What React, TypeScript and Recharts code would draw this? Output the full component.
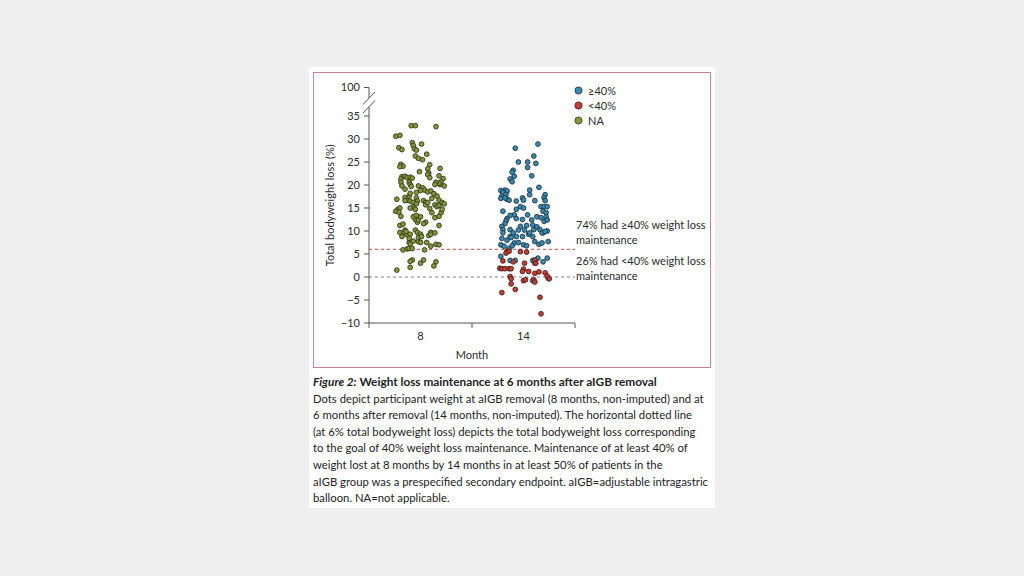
import React from 'react';
import { ScatterChart, Scatter, XAxis, YAxis, ReferenceLine, Label } from 'recharts';

// x: jitter position on a 0..2 axis (month 8 group centred at 0.5, month 14 at 1.5)
// y: total bodyweight loss (%)
const month8NA: [number, number][] = [
  [0.41, 32.9], [0.45, 32.9], [0.65, 32.7], [0.26, 30.6], [0.3, 30.8], [0.29, 28.1], [0.32, 27.7],
  [0.42, 29.2], [0.43, 28.6], [0.44, 27.9], [0.46, 27.6], [0.51, 28.9], [0.45, 26.3], [0.48, 25.8],
  [0.56, 26.7], [0.52, 25.5], [0.31, 24.5], [0.33, 24.1], [0.3, 24.0], [0.59, 24.4], [0.57, 23.5],
  [0.58, 22.6], [0.57, 22.3], [0.69, 23.6], [0.49, 22.9], [0.32, 21.8], [0.35, 21.9], [0.31, 21.3],
  [0.37, 21.6], [0.4, 21.7], [0.42, 21.5], [0.68, 22.0], [0.72, 21.4], [0.7, 20.7], [0.69, 20.1],
  [0.73, 19.8], [0.68, 20.4], [0.59, 21.6], [0.65, 20.6], [0.64, 20.1], [0.39, 20.6], [0.4, 20.1],
  [0.41, 19.7], [0.31, 20.6], [0.32, 19.8], [0.35, 19.1], [0.27, 16.9], [0.35, 17.3], [0.39, 17.6],
  [0.4, 18.2], [0.37, 16.7], [0.4, 16.5], [0.46, 17.2], [0.47, 16.5], [0.43, 16.2], [0.46, 15.9],
  [0.48, 19.8], [0.52, 19.4], [0.54, 18.9], [0.57, 18.5], [0.5, 18.8], [0.46, 18.4], [0.6, 18.7],
  [0.63, 18.1], [0.61, 17.1], [0.66, 17.6], [0.68, 16.7], [0.53, 16.6], [0.55, 16.2], [0.43, 15.1],
  [0.45, 14.7], [0.4, 15.0], [0.27, 1.5], [0.4, 2.1], [0.42, 3.7], [0.4, 3.4], [0.5, 3.0], [0.53, 3.7],
  [0.65, 3.3], [0.63, 2.4], [0.33, 5.9], [0.37, 6.1], [0.39, 6.2], [0.42, 6.2], [0.54, 5.9], [0.6, 6.7],
  [0.65, 7.1], [0.68, 7.0], [0.39, 7.5], [0.4, 7.2], [0.43, 7.8], [0.48, 7.7], [0.5, 7.5], [0.58, 9.0],
  [0.56, 7.5], [0.3, 9.7], [0.34, 9.6], [0.32, 8.8], [0.37, 9.2], [0.35, 10.2], [0.36, 9.9], [0.4, 9.3],
  [0.39, 8.4], [0.45, 10.2], [0.47, 9.7], [0.5, 9.3], [0.48, 8.6], [0.51, 8.8], [0.6, 9.7], [0.64, 9.6],
  [0.6, 9.3], [0.68, 11.2], [0.3, 11.2], [0.33, 11.5], [0.47, 11.9], [0.45, 12.5], [0.48, 12.4],
  [0.43, 13.1], [0.46, 13.4], [0.5, 13.1], [0.55, 11.9], [0.53, 11.6], [0.64, 12.9], [0.68, 13.2],
  [0.7, 14.0], [0.71, 14.7], [0.28, 14.7], [0.3, 15.0], [0.26, 14.3], [0.29, 14.1], [0.31, 13.2],
  [0.35, 16.6], [0.61, 14.0], [0.59, 14.9], [0.64, 15.7], [0.66, 15.3], [0.68, 15.6], [0.71, 16.2],
  [0.55, 15.7], [0.57, 16.2], [0.73, 15.9],
];

const month14Above: [number, number][] = [
  [1.64, 28.9], [1.42, 28.0], [1.6, 26.3], [1.45, 25.0], [1.54, 25.0], [1.62, 24.7], [1.54, 23.8],
  [1.4, 23.2], [1.39, 22.8], [1.41, 21.9], [1.37, 21.3], [1.39, 20.7], [1.58, 22.0], [1.65, 19.5],
  [1.56, 18.9], [1.56, 17.9], [1.71, 17.9], [1.7, 17.2], [1.28, 18.8], [1.32, 18.9], [1.34, 18.7],
  [1.3, 18.4], [1.29, 17.6], [1.33, 17.9], [1.34, 16.9], [1.28, 17.1], [1.32, 17.2], [1.36, 16.7],
  [1.49, 17.2], [1.5, 16.7], [1.43, 16.5], [1.61, 16.6], [1.71, 16.6], [1.67, 15.3], [1.7, 15.3],
  [1.73, 15.3], [1.43, 14.7], [1.47, 15.3], [1.5, 15.0], [1.41, 13.5], [1.3, 14.3], [1.34, 12.7],
  [1.37, 13.4], [1.33, 12.2], [1.32, 11.6], [1.29, 11.0], [1.3, 10.3], [1.43, 12.7], [1.49, 12.5],
  [1.54, 13.5], [1.58, 12.4], [1.63, 13.1], [1.67, 12.9], [1.69, 14.3], [1.72, 14.0], [1.72, 13.1],
  [1.7, 12.1], [1.73, 12.4], [1.47, 11.0], [1.53, 11.2], [1.59, 11.3], [1.63, 10.9], [1.37, 10.3],
  [1.4, 9.6], [1.45, 10.2], [1.51, 10.2], [1.55, 9.3], [1.6, 10.3], [1.66, 10.3], [1.69, 9.6],
  [1.73, 10.0], [1.3, 9.6], [1.37, 8.8], [1.43, 8.8], [1.49, 8.8], [1.56, 9.6], [1.59, 8.8],
  [1.68, 9.6], [1.71, 9.9], [1.29, 8.4], [1.34, 8.0], [1.38, 8.6], [1.41, 7.4], [1.45, 7.5],
  [1.5, 7.0], [1.53, 6.8], [1.61, 7.7], [1.65, 7.1], [1.68, 7.4], [1.74, 7.7], [1.28, 7.0],
  [1.31, 6.7], [1.36, 6.2], [1.39, 6.8], [1.28, 4.5], [1.37, 3.6], [1.42, 3.6], [1.59, 3.6],
  [1.61, 3.0], [1.64, 4.1], [1.69, 3.3], [1.73, 4.1], [1.74, -0.3], [1.59, -0.8],
];

const month14Below: [number, number][] = [
  [1.34, 5.6], [1.33, 5.2], [1.36, 5.6], [1.47, 5.5], [1.53, 5.4], [1.51, 3.0], [1.5, 1.7],
  [1.49, 1.2], [1.27, 1.9], [1.29, 1.8], [1.32, 1.8], [1.36, 1.8], [1.38, 1.8], [1.61, 3.7],
  [1.62, 3.0], [1.61, 0.8], [1.37, 0.1], [1.38, -0.4], [1.55, 1.2], [1.71, 0.9], [1.73, 0.2],
  [1.38, -1.5], [1.5, -0.8], [1.52, -0.6], [1.6, -0.6], [1.61, -1.1], [1.75, -0.4], [1.42, -2.7],
  [1.29, -3.4], [1.66, -4.4], [1.67, -8.0], [1.3, 3.5], [1.4, 3.3], [1.65, 1.1],
];

const monthTicks = [0, 0.5, 1, 1.5, 2];
const monthLabels: Record<string, string> = { '0.5': '8', '1.5': '14' };
const BREAK_TOP = 41.2; // where the "100" tick sits above the axis break
const yTicks = [-10, -5, 0, 5, 10, 15, 20, 25, 30, 35, BREAK_TOP];
const goalLine = 6;

const FONT = 'Lato, "Open Sans", sans-serif';
const TEXT = '#2a2a2a';
const AXIS = '#555';

const series = [
  { name: '≥40%', data: month14Above, fill: '#3c88ae', stroke: '#1b3646' },
  { name: '<40%', data: month14Below, fill: '#bd3f36', stroke: '#521b17' },
  { name: 'NA', data: month8NA, fill: '#83953d', stroke: '#323b16' },
];

const toPoints = (arr: [number, number][]) => arr.map(([x, y]) => ({ x, y }));

const dot = (fill: string, stroke: string) => (props: any) => (
  <circle cx={props.cx} cy={props.cy} r={2.4} fill={fill} stroke={stroke} strokeWidth={0.9} />
);

const YTick = (props: any) => {
  const { x, y, payload } = props;
  const v = payload.value;
  if (v === BREAK_TOP) {
    const ax = x + 9;
    return (
      <g>
        <text x={x} y={y} dy="0.35em" textAnchor="end" fontSize={11} fill={TEXT} fontFamily={FONT}>100</text>
        <polygon points={`${ax - 6},${y + 17} ${ax + 6},${y + 4.5} ${ax + 6},${y + 13} ${ax - 6},${y + 25.5}`} fill="#fff" />
        <line x1={ax - 6} y1={y + 17} x2={ax + 6} y2={y + 4.5} stroke={AXIS} />
        <line x1={ax - 6} y1={y + 25.5} x2={ax + 6} y2={y + 13} stroke={AXIS} />
      </g>
    );
  }
  return (
    <text x={x} y={y} dy="0.35em" textAnchor="end" fontSize={11} fill={TEXT} fontFamily={FONT}>
      {String(v).replace('-', '\u2212')}
    </text>
  );
};

const XTick = (props: any) => {
  const { x, y, payload } = props;
  const label = monthLabels[String(payload.value)];
  const axisY = y - 9;
  if (label) {
    return (
      <text x={x} y={axisY + 17} textAnchor="middle" fontSize={11} fill={TEXT} fontFamily={FONT}>{label}</text>
    );
  }
  return <line x1={x} y1={axisY} x2={x} y2={axisY + 5} stroke={AXIS} />;
};

const captionLines = [
  'Dots depict participant weight at aIGB removal (8 months, non-imputed) and at',
  '6 months after removal (14 months, non-imputed). The horizontal dotted line',
  '(at 6% total bodyweight loss) depicts the total bodyweight loss corresponding',
  'to the goal of 40% weight loss maintenance. Maintenance of at least 40% of',
  'weight lost at 8 months by 14 months in at least 50% of patients in the',
  'aIGB group was a prespecified secondary endpoint. aIGB=adjustable intragastric',
  'balloon. NA=not applicable.',
];

export default function App() {
  return (
    <div style={{ position: 'absolute', left: 0, top: 0, width: 1024, height: 576, background: '#efefef', fontFamily: FONT }}>
      <div style={{ position: 'absolute', left: 309, top: 67, width: 406, height: 441, background: '#fff' }} />
      <div style={{ position: 'absolute', left: 313, top: 72, width: 396, height: 294, border: '1px solid #c98596' }} />

      <div style={{ position: 'absolute', left: 313, top: 72 }}>
        <ScatterChart width={398} height={296} margin={{ top: 15.5, right: 136, bottom: 0, left: 0 }}>
          <XAxis
            type="number"
            dataKey="x"
            domain={[0, 2]}
            ticks={monthTicks}
            interval={0}
            tickLine={false}
            tickSize={5}
            tickMargin={4}
            height={45}
            stroke={AXIS}
            tick={<XTick />}
          >
            <Label value="Month" position="insideBottom" offset={9} fontSize={11} fill={TEXT} fontFamily={FONT} />
          </XAxis>
          <YAxis
            type="number"
            dataKey="y"
            domain={[-10, BREAK_TOP]}
            ticks={yTicks}
            interval={0}
            width={56}
            tickSize={5}
            tickMargin={4}
            stroke={AXIS}
            tick={<YTick />}
          >
            <Label value="Total bodyweight loss (%)" angle={-90} position="center" dx={-11} fontSize={11} fill={TEXT} fontFamily={FONT} />
          </YAxis>
          {series.map((s) => (
            <Scatter
              key={s.name}
              name={s.name}
              data={toPoints(s.data)}
              fill={s.fill}
              shape={dot(s.fill, s.stroke)}
              isAnimationActive={false}
            />
          ))}
          <ReferenceLine y={goalLine} stroke="#e04848" strokeOpacity={0.85} strokeWidth={1.1} strokeDasharray="3 3" />
          <ReferenceLine y={0} stroke="#80809a" strokeWidth={1.1} strokeDasharray="3 3" />
        </ScatterChart>
      </div>

      <div style={{ position: 'absolute', left: 574, top: 83, fontSize: 11, color: TEXT }}>
        {series.map((s) => (
          <div key={s.name} style={{ display: 'flex', alignItems: 'center', height: 15 }}>
            <svg width={9} height={9} style={{ marginRight: 5 }}>
              <circle cx={4.5} cy={4.5} r={3.6} fill={s.fill} stroke={s.stroke} strokeWidth={0.8} />
            </svg>
            <span>{s.name}</span>
          </div>
        ))}
      </div>

      <div style={{ position: 'absolute', left: 576, top: 217, fontSize: 11, lineHeight: '15px', color: TEXT, whiteSpace: 'nowrap' }}>
        <div>74% had ≥40% weight loss</div>
        <div>maintenance</div>
      </div>
      <div style={{ position: 'absolute', left: 576, top: 253, fontSize: 11, lineHeight: '15px', color: TEXT, whiteSpace: 'nowrap' }}>
        <div>26% had &lt;40% weight loss</div>
        <div>maintenance</div>
      </div>

      <div style={{ position: 'absolute', left: 313, top: 374, fontSize: 11.3, lineHeight: '16.6px', color: '#222', whiteSpace: 'nowrap' }}>
        <div style={{ fontWeight: 700, fontSize: 11.8 }}>
          <i>Figure 2:</i> Weight loss maintenance at 6 months after aIGB removal
        </div>
        {captionLines.map((l) => (
          <div key={l}>{l}</div>
        ))}
      </div>
    </div>
  );
}
